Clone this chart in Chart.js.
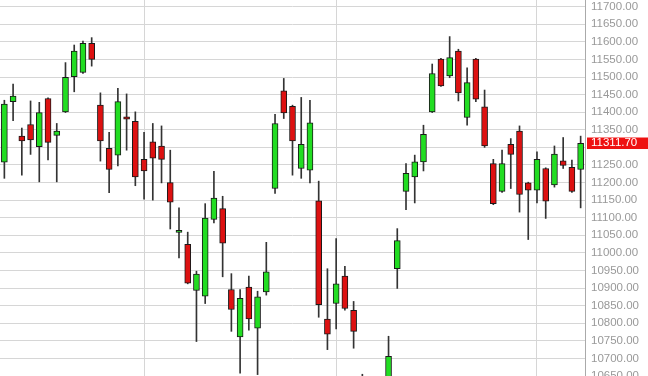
<!DOCTYPE html>
<html>
<head>
<meta charset="utf-8">
<script src="https://cdn.jsdelivr.net/npm/chart.js@4.4.1/dist/chart.umd.min.js"></script>
<style>
  html, body { margin: 0; padding: 0; background: #fff; }
  #wrap { width: 648px; height: 376px; position: relative; }
</style>
</head>
<body>
<div id="wrap"><canvas id="chart"></canvas></div>
<script>
// daily candles, oldest first
const opens = [11258, 11430, 11332, 11365, 11302, 11439, 11334, 11401, 11501, 11513,
  11596, 11420, 11297, 11278, 11387, 11374, 11266, 11316, 11304, 11200,
  11058, 11024, 10893, 10877, 11095, 11126, 10896, 10761, 10903, 10786,
  10889, 11183, 11461, 11417, 11240, 11235, 11148, 10812, 10856, 10934,
  10837, 10630, 10560, 10500, 10600, 10955, 11175, 11216, 11259, 11401,
  11551, 11503, 11574, 11385, 11551, 11415, 11254, 11175, 11309, 11346,
  11199, 11178, 11240, 11193, 11262, 11243, 11237];
const highs = [11434, 11480, 11355, 11432, 11428, 11441, 11368, 11541, 11591, 11602,
  11612, 11455, 11343, 11468, 11452, 11401, 11343, 11368, 11361, 11292,
  11128, 11059, 10948, 11140, 11232, 11161, 10941, 10896, 10934, 10891,
  11030, 11394, 11496, 11420, 11442, 11434, 11204, 10955, 11041, 10962,
  10862, 10655, 10620, 10640, 10763, 11069, 11254, 11278, 11363, 11537,
  11553, 11615, 11579, 11526, 11553, 11463, 11266, 11292, 11325, 11361,
  11201, 11287, 11242, 11304, 11328, 11264, 11332];
const lows = [11212, 11376, 11221, 11280, 11202, 11264, 11202, 11399, 11458, 11510,
  11531, 11261, 11171, 11247, 11292, 11191, 11153, 11150, 11199, 11068,
  10986, 10912, 10748, 10856, 11085, 10932, 10777, 10658, 10780, 10654,
  10880, 11169, 11382, 11221, 11212, 11199, 10817, 10725, 10784, 10837,
  10729, 10530, 10480, 10470, 10580, 10899, 11123, 11142, 11233, 11399,
  11473, 11498, 11432, 11363, 11430, 11300, 11137, 11172, 11183, 11116,
  11038, 11142, 11098, 11187, 11240, 11172, 11128];
const closes = [11423, 11446, 11318, 11321, 11399, 11314, 11346, 11499, 11574, 11596,
  11550, 11318, 11237, 11430, 11380, 11216, 11233, 11269, 11266, 11144,
  11064, 10914, 10940, 11099, 11156, 11028, 10839, 10871, 10812, 10875,
  10946, 11368, 11398, 11318, 11309, 11370, 10853, 10769, 10912, 10842,
  10777, 10560, 10520, 10600, 10706, 11035, 11226, 11259, 11337, 11510,
  11475, 11555, 11455, 11484, 11437, 11304, 11140, 11254, 11280, 11166,
  11178, 11266, 11147, 11281, 11249, 11175, 11311.70];
const days = opens.map((_, i) => String(i + 1));
const monthStarts = [16, 38, 61];   // candles where a new month begins
const lastPrice = 11311.70;

const UP = '#22dd22';
const DOWN = '#dd1111';

const bodyColors = opens.map((o, i) => closes[i] >= o ? UP : DOWN);

const ctx = document.getElementById('chart').getContext('2d');
new Chart(ctx, {
  type: 'bar',
  data: {
    labels: days,
    datasets: [
      {
        label: 'Body',
        data: opens.map((o, i) => [o, closes[i]]),
        backgroundColor: bodyColors,
        borderColor: '#1a1a1a',
        borderWidth: 1,
        borderSkipped: false,
        barThickness: 6,
        grouped: false,
        order: 0
      },
      {
        label: 'Range',
        data: lows.map((l, i) => [l, highs[i]]),
        backgroundColor: '#333',
        borderWidth: 0,
        barThickness: 1,
        grouped: false,
        order: 1
      }
    ]
  },
  options: {
    responsive: true,
    maintainAspectRatio: false,
    animation: false,
    layout: { padding: 0 },
    plugins: {
      legend: { display: false },
      tooltip: { enabled: false }
    },
    scales: {
      x: {
        type: 'category',
        offset: true,
        grid: {
          offset: false,
          drawTicks: false,
          color: (c) => monthStarts.includes(c.index) ? '#d6d6d6' : 'rgba(0,0,0,0)'
        },
        border: { display: false },
        ticks: { display: false }
      },
      y: {
        position: 'right',
        min: 10650,
        max: 11719,
        afterBuildTicks: (axis) => {
          axis.ticks.push({ value: lastPrice });
          axis.ticks.sort((a, b) => a.value - b.value);
        },
        afterFit: (axis) => {
          axis.width = 63;
          axis.paddingTop = 0;
          axis.paddingBottom = 0;
        },
        grid: {
          drawTicks: false,
          color: (c) => c.tick && c.tick.value === lastPrice ? 'rgba(0,0,0,0)' : '#d6d6d6'
        },
        border: { display: true, color: '#aaa' },
        ticks: {
          stepSize: 50,
          includeBounds: false,
          autoSkip: false,
          padding: 6,
          font: { family: 'Liberation Sans, Arial, sans-serif', size: 11.5, lineHeight: 1 },
          color: (c) => {
            if (c.tick.value === lastPrice) return '#fff';
            if (c.tick.value === 11300) return 'rgba(0,0,0,0)';
            return '#999';
          },
          showLabelBackdrop: (c) => c.tick.value === lastPrice,
          backdropColor: '#ee1111',
          backdropPadding: { left: 4, right: 14, top: 0, bottom: 0 },
          callback: (v) => Number(v).toFixed(2)
        }
      }
    }
  }
});
</script>
</body>
</html>
